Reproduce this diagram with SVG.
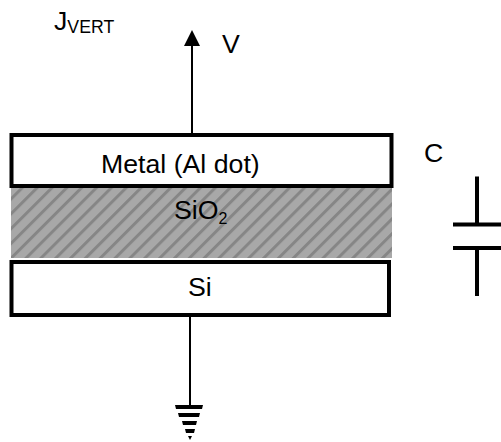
<svg xmlns="http://www.w3.org/2000/svg" width="501" height="442" viewBox="0 0 501 442">
<style>
text{font-family:"Liberation Sans",Arial,sans-serif;fill:#000;font-size:26.700px}
.sub{font-size:17.700px}
.box{fill:#fff;stroke:#000;stroke-width:4}
.w{fill:none;stroke:#000;stroke-width:2}
.t{fill:none;stroke:#000;stroke-width:4}
</style>
<defs>
<pattern id="h" width="10.500" height="10.500" patternUnits="userSpaceOnUse" patternTransform="rotate(45)">
<rect width="10.500" height="10.500" fill="#a8a8a8"/>
<rect width="3" height="10.500" fill="#868686"/>
</pattern>
</defs>
<g id="connectors">
<path class="w" d="M192 134V45"/>
<path d="M192 30l-8 16h16z" fill="#000"/>
<path class="w" d="M190 316V406"/>
<path d="M175 405h28l-1 4h-26zM178 413h22l-1 4h-20zM182 421h15l-1 4h-13zM185 429h10l-1 4h-8zM188 436h4l-2 4z" fill="#000"/>
</g>
<g id="sio2"><rect x="11" y="188" width="381" height="70" fill="url(#h)"/>
<text x="174" y="219">SiO<tspan font-size="16" dy="4.500">2</tspan></text></g>
<g id="metal"><rect class="box" x="11.500" y="135" width="380" height="51"/>
<text x="101" y="173">Metal (Al dot)</text></g>
<g id="si"><rect class="box" x="11.500" y="262" width="377.500" height="53"/>
<text x="188" y="296">Si</text></g>
<g id="capacitor"><path class="t" d="M477 176.500V223M453 224.500H501M453 248H501M477 249V296"/></g>
<text x="54" y="30">J<tspan class="sub" dy="3">VERT</tspan></text>
<text x="222" y="53">V</text>
<text x="424" y="162">C</text>
</svg>
